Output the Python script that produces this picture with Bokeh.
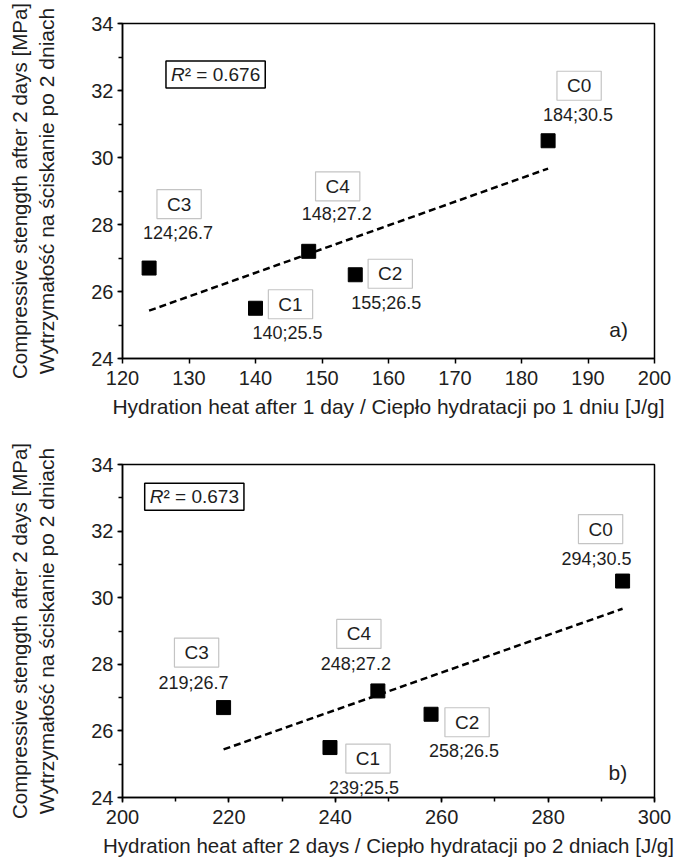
import numpy as np
from bokeh.plotting import figure
from bokeh.models import Range1d, SingleIntervalTicker, Label, Title
from bokeh.layouts import column
from bokeh.embed import file_html
from bokeh.resources import INLINE

# ---------------- data ----------------
mixes = ["C0", "C1", "C2", "C3", "C4"]
strength_2d = [30.5, 25.5, 26.5, 26.7, 27.2]          # MPa
heat_1d = [184, 140, 155, 124, 148]                   # J/g after 1 day
heat_2d = [294, 239, 258, 219, 248]                   # J/g after 2 days
r2_values = [0.676, 0.673]
x_ticks_top = [120, 130, 140, 150, 160, 170, 180, 190, 200]
x_ticks_bottom = [200, 220, 240, 260, 280, 300]
y_ticks = [24, 26, 28, 30, 32, 34]

# ---------------- styling / layout ----------------
FONT = "Liberation Sans"
TXT = "#1e1e1e"
W = 674
FRAME_L = 122
FRAME_R = 654
R2_FS = 19

# label offsets in screen px (box label, coordinate label)
top_box_off = {"C0": (31, 55), "C1": (35, 4), "C2": (35, 1), "C3": (30, 64), "C4": (29, 65)}
top_val_off = {"C0": (30, 26), "C1": (32, -25), "C2": (31, -28), "C3": (29, 35), "C4": (28, 37)}
bot_box_off = {"C0": (-22, 52), "C1": (38, -11), "C2": (36, -8), "C3": (-27, 55), "C4": (-19, 57)}
bot_val_off = {"C0": (-26, 22), "C1": (34, -40), "C2": (33, -37), "C3": (-30, 25), "C4": (-22, 27)}


def panel(heat, xticks, minor, xlabel, xlabel_size, r2, tag, box_off, val_off, r2_pos, tag_pos,
          height, b_top, b_bottom, title_shift):
    p = figure(width=W, height=height, output_backend="svg", toolbar_location=None,
               x_range=Range1d(xticks[0], xticks[-1]), y_range=Range1d(y_ticks[0], y_ticks[-1]),
               min_border_left=FRAME_L, min_border_right=W - FRAME_R,
               min_border_top=b_top, min_border_bottom=b_bottom)
    p.grid.visible = False
    p.outline_line_color = "black"
    p.outline_line_width = 1.5
    p.background_fill_color = "white"

    step = xticks[1] - xticks[0]
    p.xaxis.ticker = SingleIntervalTicker(interval=step, num_minor_ticks=minor)
    p.yaxis.ticker = SingleIntervalTicker(interval=2, num_minor_ticks=2)
    for ax in (p.xaxis, p.yaxis):
        ax.axis_line_color = "black"
        ax.axis_line_width = 1.5
        ax.major_tick_line_color = "black"
        ax.major_tick_line_width = 1.5
        ax.minor_tick_line_color = "black"
        ax.minor_tick_line_width = 1.5
        ax.major_tick_in = 0
        ax.minor_tick_in = 0
        ax.major_tick_out = 5
        ax.minor_tick_out = 4
        ax.major_label_text_font = FONT
        ax.major_label_text_font_size = "20px"
        ax.major_label_text_color = TXT
        ax.axis_label_text_font = FONT
        ax.axis_label_text_font_style = "normal"
        ax.axis_label_text_color = TXT
    p.xaxis.axis_label_text_font_size = xlabel_size
    p.xaxis.major_label_standoff = 7
    p.xaxis.axis_label_standoff = 7
    p.xaxis.axis_label = xlabel
    p.yaxis.major_label_standoff = 4
    p.yaxis.axis_label = "Wytrzymałość na ściskanie po 2 dniach"
    p.yaxis.axis_label_text_font_size = "21px"
    p.yaxis.axis_label_standoff = 30

    p.add_layout(Title(text="Compressive stenggth after 2 days [MPa]", align="center",
                       text_font=FONT, text_font_size="20.5px", text_font_style="normal",
                       text_color=TXT, standoff=4, offset=title_shift), "left")

    # trend line (least squares fit of the data)
    k, b = np.polyfit(heat, strength_2d, 1)
    xs = [min(heat), max(heat)]
    p.line(xs, [k * v + b for v in xs], line_color="black", line_width=2.5, line_dash="7 4")

    p.scatter(heat, strength_2d, marker="square", size=14, color="black")

    for m, xv, yv in zip(mixes, heat, strength_2d):
        bx, by = box_off[m]
        p.add_layout(Label(x=xv, y=yv, x_offset=bx, y_offset=by, text=m,
                           text_align="center", text_baseline="middle",
                           text_font=FONT, text_font_size="19px", text_color=TXT,
                           border_line_color="#c4c4c4", border_line_width=1.2,
                           background_fill_color="white", padding=(10, 4)))
        vx, vy = val_off[m]
        p.add_layout(Label(x=xv, y=yv, x_offset=vx, y_offset=vy,
                           text=f"{xv};{yv}",
                           text_align="center", text_baseline="middle",
                           text_font=FONT, text_font_size="18px", text_color=TXT))

    # R² box: framed full text in white (box only), then italic R and the rest on top
    r2_text = f"R² = {r2:.3f}"
    half = 0.5 * R2_FS * (0.722 + 0.333 + 0.278 + 0.584 + 0.278 + 0.556 * 4 + 0.278)
    p.add_layout(Label(x=r2_pos[0], y=r2_pos[1], text=r2_text,
                       text_align="center", text_baseline="middle",
                       text_font=FONT, text_font_size=f"{R2_FS}px", text_color="white",
                       border_line_color="black", border_line_width=1.5,
                       background_fill_color="white", padding=(5, 3)))
    p.add_layout(Label(x=r2_pos[0], y=r2_pos[1], x_offset=-half, text="R",
                       text_align="left", text_baseline="middle", text_font_style="italic",
                       text_font=FONT, text_font_size=f"{R2_FS}px", text_color=TXT))
    p.add_layout(Label(x=r2_pos[0], y=r2_pos[1], x_offset=-half + 0.722 * R2_FS,
                       text=r2_text[1:],
                       text_align="left", text_baseline="middle",
                       text_font=FONT, text_font_size=f"{R2_FS}px", text_color=TXT))

    p.add_layout(Label(x=tag_pos[0], y=tag_pos[1], text=tag,
                       text_align="center", text_baseline="middle",
                       text_font=FONT, text_font_size="21px", text_color=TXT))
    return p


p1 = panel(heat_1d, x_ticks_top, 0,
           "Hydration heat after 1 day / Ciepło hydratacji po 1 dniu [J/g]", "21px",
           r2_values[0], "a)", top_box_off, top_val_off, (134.0, 32.48), (194.6, 24.87),
           height=433, b_top=23, b_bottom=75, title_shift=12)
p2 = panel(heat_2d, x_ticks_bottom, 2,
           "Hydration heat after 2 days / Ciepło hydratacji po 2 dniach [J/g]", "20.5px",
           r2_values[1], "b)", bot_box_off, bot_val_off, (213.5, 33.03), (293.1, 24.75),
           height=432, b_top=31, b_bottom=68, title_shift=8)

layout = column(p1, p2, spacing=0)
open("out.html", "w").write(file_html(layout, INLINE))
